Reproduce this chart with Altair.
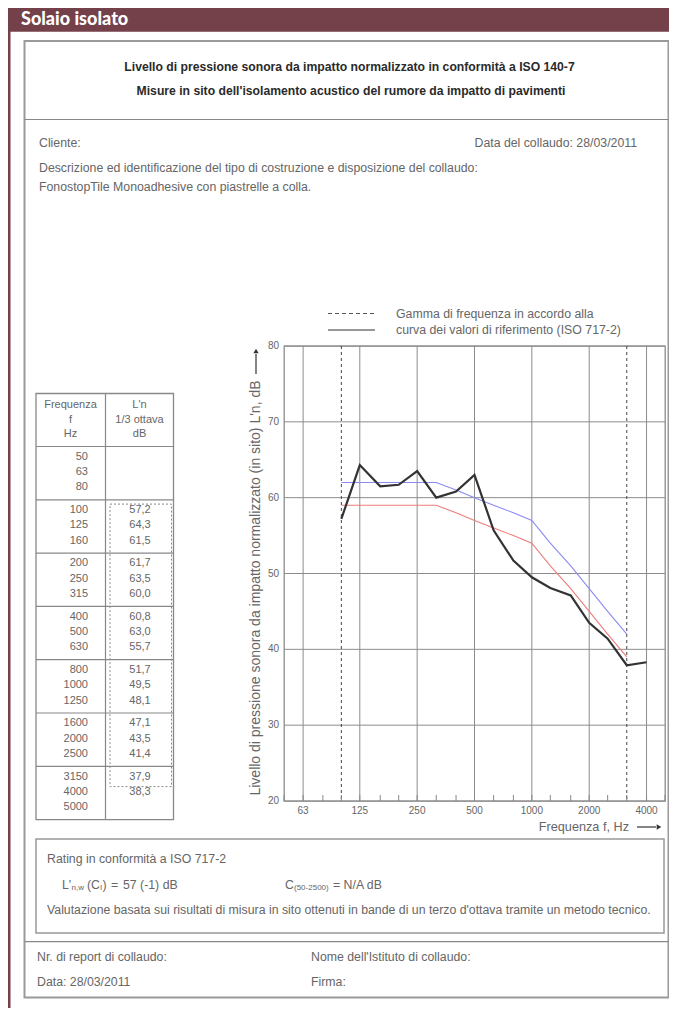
import altair as alt
import pandas as pd

# ---------------- data ----------------
BANDS = [50, 63, 80, 100, 125, 160, 200, 250, 315, 400, 500, 630,
         800, 1000, 1250, 1600, 2000, 2500, 3150, 4000, 5000]
MEAS_FREQ = [100, 125, 160, 200, 250, 315, 400, 500, 630, 800, 1000,
             1250, 1600, 2000, 2500, 3150, 4000]
MEAS_LN = [57.2, 64.3, 61.5, 61.7, 63.5, 60.0, 60.8, 63.0, 55.7, 51.7,
           49.5, 48.1, 47.1, 43.5, 41.4, 37.9, 38.3]
REF_FREQ = [100, 125, 160, 200, 250, 315, 400, 500, 630, 800, 1000,
            1250, 1600, 2000, 2500, 3150]
REF_CURVE = [62, 62, 62, 62, 62, 62, 61, 60, 59, 58, 57, 54, 51, 48, 45, 42]
SHIFTED_CURVE = [59, 59, 59, 59, 59, 59, 58, 57, 56, 55, 54, 51, 48, 45, 42, 39]
RANGE_FREQ = [100, 3150]
X_TICKS = [63, 125, 250, 500, 1000, 2000, 4000]
Y_TICKS = [20, 30, 40, 50, 60, 70, 80]

# ---------------- layout ----------------
FONT = "Liberation Sans"
OX, OY = 284, 346          # plot-area origin in page pixels
W, H = 381, 455
SVG_W, SVG_H = 661, 1000
PAD = {"left": OX - 8, "top": OY - 8, "right": SVG_W - (OX - 8) - W,
       "bottom": SVG_H - (OY - 8) - H}
TXT = "#666666"
BODY = 12.3
GRID = "#8c8c8c"

ONE = pd.DataFrame({"k": [0]})


def rect(x1, y1, x2, y2, **mk):
    return alt.Chart(ONE).mark_rect(**mk).encode(
        x=alt.value(x1 - OX), x2=alt.value(x2 - OX),
        y=alt.value(y1 - OY), y2=alt.value(y2 - OY))


def hline(x1, x2, y, **mk):
    return alt.Chart(ONE).mark_rule(**mk).encode(
        x=alt.value(x1 - OX), x2=alt.value(x2 - OX), y=alt.value(y - OY))


def vline(x, y1, y2, **mk):
    return alt.Chart(ONE).mark_rule(**mk).encode(
        x=alt.value(x - OX), y=alt.value(y1 - OY), y2=alt.value(y2 - OY))


def text(x, y, s, size=BODY, align="left", color=TXT, **mk):
    return alt.Chart(ONE).mark_text(
        text=s, align=align, baseline="middle", fontSize=size,
        font=mk.pop("font", FONT), color=color, **mk).encode(
        x=alt.value(x - OX), y=alt.value(y - OY))


def arrow_head(x, y, shape, size=28):
    return alt.Chart(ONE).mark_point(
        shape=shape, filled=True, size=size, color="#333", opacity=1).encode(
        x=alt.value(x - OX), y=alt.value(y - OY))


# ---------------- frame / decorations ----------------
BORDER = "#9a9a9a"
DOC_R = 668.5
deco = [
    rect(8, 8, 669, 31.7, color="#74404a"),                 # header bar
    rect(8, 12, 10.5, 1008, color="#74404a"),               # left accent line
    text(21, 19.5, "Solaio isolato", size=18, color="white",
         fontWeight=900, font="Lato"),
    rect(24.5, 41, DOC_R, 997.5, fillOpacity=0, stroke=BORDER, strokeWidth=2),
    hline(24.5, DOC_R, 119.5, color="#888", strokeWidth=1.2),
    text(349.5, 67, "Livello di pressione sonora da impatto normalizzato in conformità a ISO 140-7",
         size=12.2, align="center", color="#2a2a2a", fontWeight="bold"),
    text(351, 91, "Misure in sito dell'isolamento acustico del rumore da impatto di pavimenti",
         size=12.2, align="center", color="#2a2a2a", fontWeight="bold"),
    text(39, 143, "Cliente:"),
    text(637, 143, "Data del collaudo: 28/03/2011", align="right"),
    text(39, 167.5, "Descrizione ed identificazione del tipo di costruzione e disposizione del collaudo:"),
    text(39, 187, "FonostopTile Monoadhesive con piastrelle a colla."),
    # legend
    hline(328, 375, 313.5, color="#555", strokeDash=[4, 3], strokeWidth=1),
    hline(328, 375, 330, color="#333", strokeWidth=1.2),
    text(396, 314, "Gamma di frequenza in accordo alla"),
    text(396, 330, "curva dei valori di riferimento (ISO 717-2)"),
    # axis titles
    text(256, 588, "Livello di pressione sonora da impatto normalizzato (in sito) L'n, dB",
         size=14, align="center", angle=270),
    vline(256, 354, 374, color="#333", strokeWidth=1.2),
    arrow_head(256, 351, "triangle-up"),
    text(629, 827, "Frequenza f, Hz", size=12.7, align="right"),
    hline(637, 656, 827, color="#333", strokeWidth=1.2),
    arrow_head(659, 827, "triangle-right"),
    # table frame
    rect(36, 393.5, 173.5, 819.6, fillOpacity=0, stroke="#888", strokeWidth=1.3),
    vline(105.5, 393.5, 819.6, color="#888", strokeWidth=1.2),
    text(70.5, 405, "Frequenza", size=11, align="center"),
    text(70.5, 419.5, "f", size=11, align="center"),
    text(70.5, 433.5, "Hz", size=11, align="center"),
    text(139.5, 405, "L'n", size=11, align="center"),
    text(139.5, 419.5, "1/3 ottava", size=11, align="center"),
    text(139.5, 433.5, "dB", size=11, align="center"),
]
for k in range(7):
    deco.append(hline(36, 173.5, 446.5 + 53.3 * k, color="#888", strokeWidth=1.2))

# rating box and footer
deco += [
    rect(36, 839, 664, 933, fillOpacity=0, stroke="#999", strokeWidth=1.5),
    text(47, 858.5, "Rating in conformità a ISO 717-2"),
    text(62, 885, "L'"),
    text(71.5, 888, "n,w", size=8),
    text(87, 885, "(C"),
    text(100, 888, "I", size=8),
    text(102.5, 885, ")"),
    text(111, 885, "="),
    text(123, 885, "57 (-1) dB"),
    text(285, 885, "C"),
    text(294, 888, "(50-2500)", size=8),
    text(333, 885, "= N/A dB"),
    text(47, 910, "Valutazione basata sui risultati di misura in sito ottenuti in bande di un terzo d'ottava tramite un metodo tecnico."),
    hline(24.5, DOC_R, 941.7, color="#888", strokeWidth=1.2),
    text(37, 957, "Nr. di report di collaudo:"),
    text(37, 982, "Data: 28/03/2011"),
    text(311, 957, "Nome dell'Istituto di collaudo:"),
    text(311, 982, "Firma:"),
]

# ---------------- table (text from the data) ----------------
val_by_f = dict(zip(MEAS_FREQ, MEAS_LN))
table_df = pd.DataFrame({"freq": BANDS,
                         "val": [val_by_f.get(f) for f in BANDS]})
GAP = 0.484                      # extra space between 3-band groups, in rows
SLOT_MAX = (len(BANDS) - 1) + ((len(BANDS) - 1) // 3) * GAP
ROW0 = 456.8
ROWSTEP = 15.3
y_tbl_scale = alt.Scale(domain=[0, SLOT_MAX],
                        range=[ROW0 - OY, ROW0 + SLOT_MAX * ROWSTEP - OY],
                        nice=False, zero=False)

tbl_base = alt.Chart(table_df).transform_window(
    idx="row_number()"
).transform_calculate(
    slot=f"(datum.idx - 1) + floor((datum.idx - 1) / 3) * {GAP}"
)

tbl_freq = tbl_base.mark_text(align="right", baseline="middle", fontSize=11,
                              font=FONT, color=TXT).encode(
    x=alt.value(88 - OX),
    y=alt.Y("slot:Q", scale=y_tbl_scale, axis=None),
    text=alt.Text("freq:Q", format="d"))

tbl_val = tbl_base.transform_filter("isValid(datum.val)").transform_calculate(
    lab="replace(format(datum.val, '.1f'), '.', ',')"
).mark_text(align="center", baseline="middle", fontSize=11, font=FONT,
            color=TXT).encode(
    x=alt.value(140 - OX),
    y=alt.Y("slot:Q", scale=y_tbl_scale, axis=None),
    text="lab:N")

tbl_box = tbl_base.transform_filter(
    f"datum.freq >= {RANGE_FREQ[0]} && datum.freq <= {RANGE_FREQ[1]}"
).mark_rect(fillOpacity=0, stroke="#888", strokeWidth=1, strokeDash=[2, 2],
            yOffset=-6, y2Offset=10).encode(
    x=alt.value(110 - OX), x2=alt.value(171.5 - OX),
    y=alt.Y("min(slot):Q", scale=y_tbl_scale, axis=None),
    y2="max(slot):Q")

table_chart = alt.layer(tbl_box, tbl_freq, tbl_val)

# ---------------- plot ----------------
xs = alt.Scale(type="log", domain=[BANDS[0], BANDS[-1]], nice=False)
ys = alt.Scale(domain=[Y_TICKS[0], Y_TICKS[-1]], nice=False, zero=False)
X = lambda f="freq": alt.X(f"{f}:Q", scale=xs, axis=None)
Y = lambda f: alt.Y(f"{f}:Q", scale=ys, axis=None)

xt_df = pd.DataFrame({"freq": X_TICKS})
yt_df = pd.DataFrame({"lev": Y_TICKS})

vgrid = alt.Chart(xt_df).mark_rule(color=GRID, strokeWidth=1).encode(
    x=X(), y=alt.value(0), y2=alt.value(H))
hgrid = alt.Chart(yt_df).mark_rule(color=GRID, strokeWidth=1).encode(
    y=Y("lev"), x=alt.value(0), x2=alt.value(W))
xlab = alt.Chart(xt_df).mark_text(fontSize=10, font=FONT, color="#666",
                                  baseline="middle", align="center").encode(
    x=X(), y=alt.value(H + 10), text=alt.Text("freq:Q", format="d"))
ylab = alt.Chart(yt_df).mark_text(fontSize=10, font=FONT, color="#666",
                                  baseline="middle", align="right").encode(
    y=Y("lev"), x=alt.value(-5), text=alt.Text("lev:Q", format="d"))

ref_df = pd.DataFrame({"freq": REF_FREQ, "ref": REF_CURVE,
                       "shifted": SHIFTED_CURVE})
meas_df = pd.DataFrame({"freq": MEAS_FREQ, "ln": MEAS_LN})

red = alt.Chart(ref_df).mark_line(color="#f07c7c", strokeWidth=1.1).encode(
    x=X(), y=Y("shifted"))
blue = alt.Chart(ref_df).mark_line(color="#8a8af2", strokeWidth=1.1).encode(
    x=X(), y=Y("ref"))
range_lines = alt.Chart(pd.DataFrame({"freq": RANGE_FREQ})).mark_rule(
    color="#444", strokeDash=[3, 3], strokeWidth=1).encode(
    x=X(), y=alt.value(0), y2=alt.value(H))
minor_ticks = alt.Chart(pd.DataFrame({"freq": BANDS})).mark_rule(
    color="#888", strokeWidth=1).encode(
    x=X(), y=alt.value(H - 6), y2=alt.value(H))
measured = alt.Chart(meas_df).mark_line(color="#333", strokeWidth=2.2).encode(
    x=X(), y=Y("ln"))

plot_chart = alt.layer(vgrid, hgrid, xlab, ylab, red, blue, range_lines,
                       minor_ticks, measured)

chart = alt.layer(*deco, table_chart, plot_chart).resolve_scale(
    y="independent"
).properties(
    width=W, height=H, padding=PAD,
    autosize=alt.AutoSizeParams(type="none"),
    background="white",
).configure_view(stroke="#8c8c8c", strokeWidth=1.3)

chart.save("out.html", embed_options={"renderer": "svg", "actions": False})
